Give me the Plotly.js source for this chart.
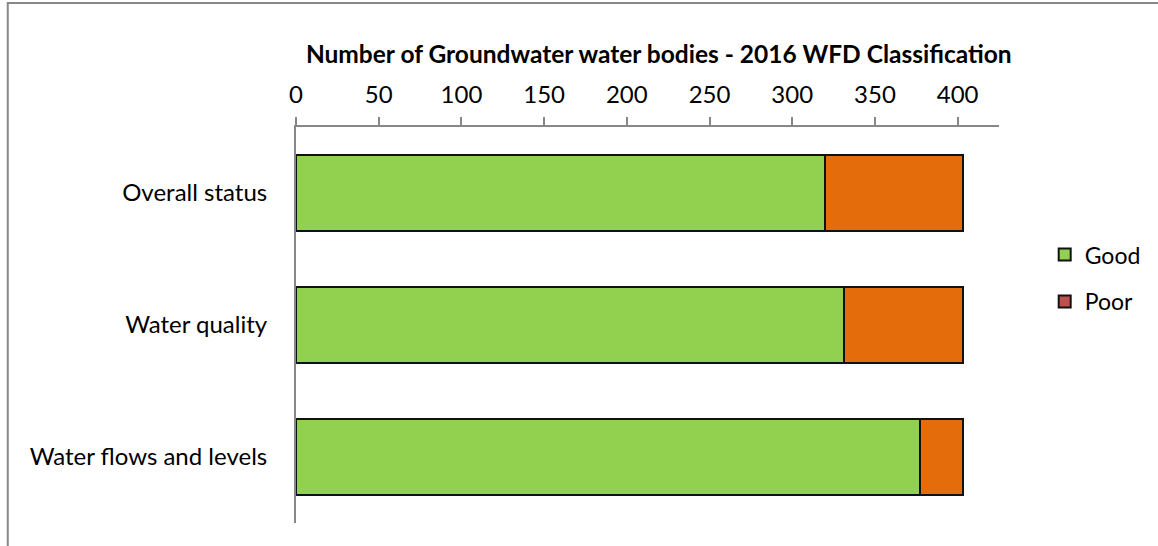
<!DOCTYPE html>
<html>
<head>
<meta charset="utf-8">
<script src="https://cdn.plot.ly/plotly-3.0.1.min.js"></script>
<style>
  body { margin: 0; background: #fff; }
  #chart { width: 1158px; height: 546px; }
</style>
</head>
<body>
<div id="chart"></div>
<script>
// categories top to bottom
var categories = ['Overall status', 'Water quality', 'Water flows and levels'];
// number of water bodies
var goodVals = [320, 331, 377];
var poorVals = [83, 72, 26];
var tickVals = [0, 50, 100, 150, 200, 250, 300, 350, 400];

var FONT = 'Lato, "Open Sans", sans-serif';

var data = [
    {
        type: 'bar', orientation: 'h',
        y: categories, x: goodVals,
        name: 'Good', legendgroup: 'g',
        marker: { color: '#92D050', line: { color: '#111', width: 2 } },
        hoverinfo: 'x+y'
    },
    {
        type: 'bar', orientation: 'h',
        y: categories, x: poorVals,
        name: 'Poor', legendgroup: 'p', showlegend: false,
        marker: { color: '#E46C0A', line: { color: '#111', width: 2 } },
        hoverinfo: 'x+y'
    },
    // legend swatch for Poor is red in the original
    {
        type: 'bar', orientation: 'h',
        y: [null], x: [null],
        name: 'Poor', legendgroup: 'p2',
        marker: { color: '#C0504D', line: { color: '#111', width: 2 } }
    }
];

var layout = {
    width: 1158, height: 546,
    paper_bgcolor: '#fff', plot_bgcolor: '#fff',
    font: { family: FONT, size: 24, color: '#000' },
    margin: { l: 296, r: 157, t: 127, b: 23 },
    barmode: 'stack',
    bargap: 0.43,
    showlegend: true,
    legend: {
        x: 1.065, y: 0.732, xanchor: 'left', yanchor: 'top',
        traceorder: 'grouped', tracegroupgap: 14,
        font: { family: FONT, size: 23 },
        itemwidth: 30
    },
    title: {
        text: '<b>Number of Groundwater water bodies - 2016 WFD Classification</b>',
        font: { family: FONT, size: 24.5, color: '#000' },
        x: 0.516, xanchor: 'center', xref: 'paper',
        y: 0.9, yanchor: 'middle'
    },
    xaxis: {
        side: 'top',
        range: [0, 425],
        tickvals: tickVals,
        showgrid: false, zeroline: false,
        showline: true, linecolor: '#888', linewidth: 2,
        ticks: 'outside', ticklen: 8, tickwidth: 2, tickcolor: '#888',
        ticklabelstandoff: 4,
        fixedrange: true
    },
    yaxis: {
        autorange: 'reversed',
        showgrid: false, zeroline: false,
        showline: true, linecolor: '#888', linewidth: 2,
        ticks: '', ticklabelstandoff: 22,
        fixedrange: true
    },
    shapes: [
        {
            type: 'rect', xref: 'paper', yref: 'paper',
            x0: -0.41, x1: 1.23, y0: -0.08, y1: 1.313,
            line: { color: '#888', width: 2 }, fillcolor: 'rgba(0,0,0,0)',
            layer: 'below'
        }
    ]
};

Plotly.newPlot('chart', data, layout, { displayModeBar: false, staticPlot: true });
</script>
</body>
</html>
